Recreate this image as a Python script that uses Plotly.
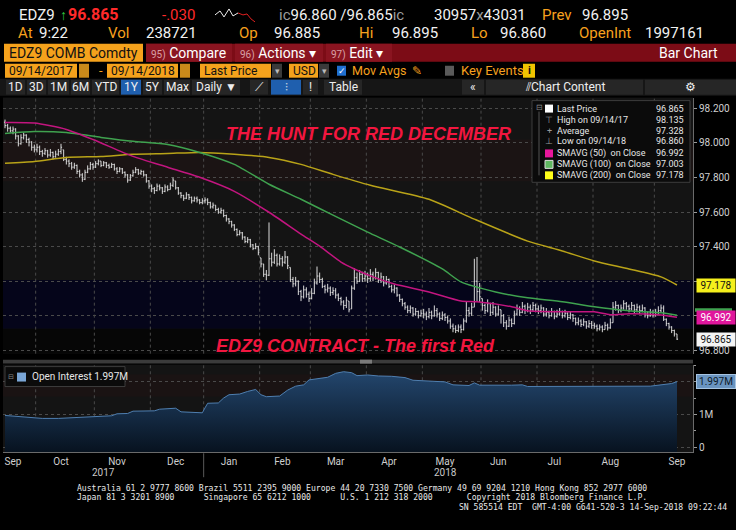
import plotly.graph_objects as go
import pandas as pd

W, H = 736, 530

# ---------------- data ----------------
holidays = ["2017-11-23", "2017-12-25", "2018-01-01", "2018-01-15", "2018-02-19",
            "2018-03-30", "2018-05-28", "2018-07-04", "2018-09-03"]
dates = [d for d in pd.bdate_range("2017-09-14", "2018-09-14")
         if d.strftime("%Y-%m-%d") not in holidays]

first_open = 98.120
close = [
    98.100, 98.085, 98.070, 98.080, 98.040, 97.995, 98.030, 98.045, 98.020, 98.005, 97.975, 97.960,
    97.975, 97.950, 97.940, 97.955, 97.930, 97.945, 97.920, 97.935, 97.950, 97.975, 97.905, 97.895,
    97.880, 97.860, 97.870, 97.835, 97.815, 97.790, 97.830, 97.850, 97.875, 97.860,
    97.880, 97.895, 97.870, 97.885, 97.870, 97.860, 97.875, 97.850, 97.835, 97.850, 97.830, 97.815,
    97.785, 97.810, 97.830, 97.845, 97.825, 97.835, 97.815, 97.780, 97.750,
    97.735, 97.725, 97.750, 97.740, 97.720, 97.745, 97.730, 97.755, 97.785, 97.740, 97.710, 97.695,
    97.680, 97.700, 97.685, 97.665, 97.680, 97.670, 97.655, 97.665,
    97.670, 97.655, 97.630, 97.640, 97.615, 97.600, 97.610, 97.580, 97.560, 97.545, 97.525, 97.500,
    97.470, 97.480, 97.455, 97.430, 97.440, 97.410, 97.390, 97.400, 97.365,
    97.300, 97.240, 97.235, 97.330, 97.310, 97.350, 97.300, 97.330, 97.310, 97.340, 97.290, 97.210,
    97.185, 97.200, 97.140, 97.110, 97.150, 97.125, 97.100,
    97.130, 97.190, 97.230, 97.210, 97.170, 97.150, 97.160, 97.135, 97.145, 97.120, 97.100, 97.080,
    97.060, 97.090, 97.035, 97.160, 97.220, 97.200, 97.240, 97.215, 97.230,
    97.215, 97.240, 97.220, 97.250, 97.205, 97.225, 97.190, 97.210, 97.170, 97.150, 97.160, 97.120,
    97.095, 97.070, 97.050, 97.030, 97.045, 97.010, 97.025, 97.000, 97.015,
    97.010, 96.995, 97.020, 97.000, 97.030, 97.010, 96.985, 97.005, 96.990, 96.970, 96.940, 96.925,
    96.915, 96.935, 96.920, 96.970, 97.030, 97.015, 97.050, 97.200, 97.140, 97.110,
    97.060, 97.030, 97.070, 97.020, 97.050, 97.010, 97.035, 97.000, 96.960, 96.940, 96.975, 96.955,
    97.010, 97.040, 97.020, 97.055, 97.030, 97.050, 97.035, 97.060, 97.040,
    97.030, 97.045, 97.010, 97.020, 97.000, 97.025, 96.995, 97.010, 97.025, 97.000, 97.015, 96.990,
    97.005, 96.985, 96.960, 96.970, 96.950, 96.965, 96.940, 96.955, 96.945,
    96.940, 96.925, 96.935, 96.920, 96.945, 96.930, 96.960, 97.050, 97.060, 97.030, 97.045, 97.070,
    97.055, 97.040, 97.060, 97.035, 97.050, 97.030, 97.045, 97.010, 97.000, 97.020, 97.005,
    97.020, 97.030, 97.045, 96.980, 96.955, 96.935, 96.915, 96.895, 96.865,
]
high = [
    98.135, 98.110, 98.095, 98.095, 98.085, 98.045, 98.050, 98.060, 98.050, 98.030, 98.010, 97.990,
    97.995, 97.985, 97.960, 97.970, 97.960, 97.965, 97.950, 97.955, 97.965, 97.995, 97.960, 97.920,
    97.905, 97.890, 97.885, 97.875, 97.845, 97.825, 97.845, 97.870, 97.890, 97.885,
    97.895, 97.905, 97.895, 97.895, 97.890, 97.880, 97.885, 97.880, 97.860, 97.860, 97.855, 97.835,
    97.820, 97.820, 97.845, 97.860, 97.850, 97.845, 97.840, 97.820, 97.785,
    97.760, 97.745, 97.765, 97.760, 97.745, 97.760, 97.755, 97.770, 97.800, 97.780, 97.745, 97.715,
    97.700, 97.715, 97.705, 97.690, 97.690, 97.690, 97.675, 97.680,
    97.685, 97.680, 97.660, 97.655, 97.640, 97.625, 97.625, 97.615, 97.585, 97.565, 97.550, 97.530,
    97.505, 97.495, 97.485, 97.460, 97.455, 97.445, 97.415, 97.420, 97.405,
    97.335, 97.300, 97.265, 97.540, 97.365, 97.385, 97.360, 97.355, 97.345, 97.375, 97.345, 97.280,
    97.225, 97.225, 97.205, 97.150, 97.175, 97.165, 97.140,
    97.160, 97.215, 97.285, 97.250, 97.220, 97.180, 97.185, 97.170, 97.165, 97.160, 97.130, 97.110,
    97.090, 97.110, 97.085, 97.175, 97.275, 97.250, 97.265, 97.255, 97.260,
    97.250, 97.270, 97.255, 97.275, 97.255, 97.250, 97.230, 97.230, 97.215, 97.180, 97.180, 97.165,
    97.125, 97.100, 97.080, 97.060, 97.060, 97.050, 97.045, 97.030, 97.035,
    97.040, 97.025, 97.045, 97.030, 97.060, 97.045, 97.020, 97.025, 97.015, 97.000, 96.985, 96.955,
    96.945, 96.950, 96.950, 96.985, 97.080, 97.050, 97.075, 97.330, 97.340, 97.190,
    97.100, 97.070, 97.095, 97.075, 97.080, 97.055, 97.060, 97.035, 97.010, 96.975, 96.995, 96.985,
    97.030, 97.065, 97.055, 97.080, 97.065, 97.075, 97.065, 97.080, 97.070,
    97.060, 97.065, 97.050, 97.045, 97.030, 97.045, 97.030, 97.035, 97.045, 97.030, 97.035, 97.020,
    97.025, 97.010, 96.990, 96.990, 96.980, 96.985, 96.970, 96.975, 96.970,
    96.960, 96.950, 96.950, 96.945, 96.965, 96.955, 96.985, 97.080, 97.085, 97.065, 97.065, 97.090,
    97.080, 97.065, 97.080, 97.065, 97.070, 97.060, 97.065, 97.050, 97.025, 97.040, 97.035,
    97.040, 97.055, 97.065, 97.060, 96.985, 96.960, 96.940, 96.920, 96.895,
]
low = [
    98.085, 98.065, 98.060, 98.050, 98.020, 97.980, 97.990, 98.020, 98.000, 97.980, 97.955, 97.945,
    97.945, 97.930, 97.920, 97.930, 97.915, 97.920, 97.905, 97.915, 97.925, 97.935, 97.895, 97.875,
    97.860, 97.845, 97.850, 97.820, 97.800, 97.775, 97.785, 97.825, 97.845, 97.845,
    97.855, 97.870, 97.860, 97.865, 97.855, 97.850, 97.855, 97.840, 97.820, 97.830, 97.820, 97.800,
    97.770, 97.780, 97.805, 97.825, 97.815, 97.815, 97.805, 97.770, 97.735,
    97.715, 97.705, 97.720, 97.725, 97.705, 97.715, 97.720, 97.730, 97.745, 97.730, 97.700, 97.680,
    97.665, 97.675, 97.670, 97.650, 97.660, 97.655, 97.645, 97.645,
    97.650, 97.640, 97.620, 97.620, 97.605, 97.590, 97.590, 97.570, 97.545, 97.530, 97.510, 97.490,
    97.460, 97.465, 97.440, 97.420, 97.420, 97.395, 97.380, 97.385, 97.350,
    97.280, 97.225, 97.205, 97.230, 97.285, 97.300, 97.285, 97.290, 97.285, 97.300, 97.270, 97.195,
    97.165, 97.170, 97.120, 97.085, 97.100, 97.105, 97.080,
    97.095, 97.125, 97.180, 97.190, 97.160, 97.130, 97.135, 97.115, 97.120, 97.100, 97.085, 97.060,
    97.035, 97.045, 97.020, 97.040, 97.150, 97.185, 97.195, 97.195, 97.200,
    97.190, 97.200, 97.200, 97.210, 97.190, 97.190, 97.170, 97.180, 97.160, 97.135, 97.130, 97.110,
    97.080, 97.055, 97.035, 97.015, 97.015, 96.995, 97.000, 96.985, 96.995,
    96.985, 96.975, 96.985, 96.980, 96.995, 96.990, 96.970, 96.975, 96.970, 96.955, 96.925, 96.905,
    96.900, 96.905, 96.900, 96.915, 96.960, 96.995, 97.000, 97.050, 97.080, 97.080,
    97.030, 97.010, 97.020, 97.000, 97.005, 96.995, 97.000, 96.955, 96.935, 96.920, 96.935, 96.935,
    96.950, 97.000, 97.000, 97.015, 97.010, 97.020, 97.010, 97.025, 97.020,
    97.010, 97.015, 96.995, 96.995, 96.985, 96.995, 96.980, 96.990, 97.000, 96.985, 96.990, 96.975,
    96.980, 96.965, 96.945, 96.945, 96.935, 96.940, 96.925, 96.930, 96.925,
    96.925, 96.910, 96.915, 96.905, 96.920, 96.915, 96.925, 96.960, 97.030, 97.015, 97.020, 97.035,
    97.035, 97.020, 97.030, 97.015, 97.020, 97.010, 97.020, 96.990, 96.985, 96.995, 96.990,
    96.995, 97.010, 97.020, 96.970, 96.940, 96.920, 96.900, 96.880, 96.860,
]

# moving averages (trading-day index -> value)
sma50_day = [0, 11, 23, 33, 48, 61, 73, 86, 99, 111, 118, 126, 131, 138, 146, 159, 171, 177, 190,
             196, 209, 221, 227, 234, 246, 252]
sma50 = [98.118, 98.115, 98.078, 98.020, 97.922, 97.859, 97.801, 97.720, 97.599, 97.473, 97.403,
         97.311, 97.271, 97.225, 97.184, 97.138, 97.086, 97.081, 97.052, 97.029, 97.023, 97.023,
         97.006, 97.012, 97.005, 96.992]
sma100_day = [0, 11, 23, 36, 48, 61, 73, 86, 99, 111, 123, 136, 148, 164, 171, 184, 196, 209, 221,
              234, 246, 252]
sma100 = [98.055, 98.066, 98.060, 98.032, 98.009, 97.991, 97.945, 97.876, 97.761, 97.674, 97.582,
          97.484, 97.398, 97.271, 97.196, 97.138, 97.104, 97.081, 97.052, 97.029, 97.017, 97.003]
sma200_day = [0, 11, 23, 36, 48, 61, 73, 86, 99, 111, 123, 137, 159, 176, 196, 209, 221, 234, 246, 252]
sma200 = [97.882, 97.893, 97.916, 97.922, 97.934, 97.939, 97.945, 97.934, 97.916, 97.876, 97.818,
          97.755, 97.674, 97.559, 97.432, 97.375, 97.317, 97.271, 97.225, 97.178]

# open interest, millions of contracts
oi_day = [0, 5, 10, 14, 20, 25, 30, 38, 40, 42, 46, 48, 56, 58, 62, 64, 66, 70, 74, 75, 76, 80, 82,
          84, 88, 91, 94, 96, 98, 103, 106, 109, 112, 114, 118, 121, 124, 127, 130, 132, 136, 140,
          145, 150, 153, 160, 165, 168, 174, 176, 178, 190, 194, 196, 210, 220, 235, 242, 246, 250, 252]
oi_mln = [0.97, 0.94, 0.90, 0.88, 0.88, 0.90, 0.92, 0.93, 0.96, 1.02, 1.03, 1.10, 1.11, 1.16, 1.18,
          1.19, 1.08, 1.06, 1.05, 1.20, 1.34, 1.35, 1.50, 1.60, 1.62, 1.70, 1.76, 1.60, 1.54, 1.56,
          1.74, 1.86, 1.90, 2.05, 2.10, 2.13, 2.25, 2.30, 2.27, 2.18, 2.20, 2.17, 2.16, 2.12, 2.04,
          2.02, 1.99, 1.90, 1.88, 1.96, 1.89, 1.89, 1.90, 1.85, 1.85, 1.84, 1.85, 1.86, 1.90, 1.94, 1.997]

price_ticks = [96.8, 97.0, 97.2, 97.4, 97.6, 97.8, 98.0, 98.2]
month_ticks = ["2017-09-19", "2017-10-13", "2017-11-13", "2017-12-14", "2018-01-16", "2018-02-13",
               "2018-03-14", "2018-04-12", "2018-05-11", "2018-06-11", "2018-07-11", "2018-08-09",
               "2018-09-14"]
month_names = ["Sep", "Oct", "Nov", "Dec", "Jan", "Feb", "Mar", "Apr", "May", "Jun", "Jul", "Aug", "Sep"]
month_ends = ["2017-09-29 12:00", "2017-10-31 12:00", "2017-11-30 12:00", "2017-12-29 12:00",
              "2018-01-31 12:00", "2018-02-28 12:00", "2018-03-29 12:00", "2018-04-30 12:00",
              "2018-05-31 12:00", "2018-06-29 12:00", "2018-07-31 12:00", "2018-08-31 12:00"]

assert len(dates) == len(close) == len(high) == len(low)

# open = previous close, kept inside the day's range
opens = []
prev = first_open
for h, l, c in zip(high, low, close):
    opens.append(min(max(prev, l), h))
    prev = c

# ---------------- style ----------------
FONT = "Roboto, Liberation Sans, sans-serif"
AMBER = "#f5a21c"
ORANGE = "#f7a11e"
GRID = "#4a4a4a"
RED_BAR = "#7c0c16"


def px(x):
    return x / W


def py(y):
    return 1 - y / H


shapes, notes = [], []


def rect(x0, y0, x1, y1, fill, line=None, layer="above"):
    shapes.append(dict(type="rect", xref="paper", yref="paper", x0=px(x0), x1=px(x1),
                       y0=py(y1), y1=py(y0), fillcolor=fill, layer=layer,
                       line=dict(width=1 if line else 0, color=line or fill)))


def text(x, y, s, color="#e6e6e6", size=10, anchor="left", family=FONT, yref="paper", **kw):
    notes.append(dict(x=px(x), y=py(y) if yref == "paper" else y, xref="paper", yref=yref,
                      text=s, showarrow=False, xanchor=anchor, yanchor="middle",
                      font=dict(color=color, size=size, family=family), **kw))


fig = go.Figure()

# price bars and moving averages
fig.add_trace(go.Ohlc(x=dates, open=opens, high=high, low=low, close=close,
                      increasing=dict(line=dict(color="#dadada", width=1)),
                      decreasing=dict(line=dict(color="#dadada", width=1)),
                      tickwidth=0.4, hoverinfo="skip", xaxis="x", yaxis="y"))
for days, vals, col in [(sma200_day, sma200, "#b9a318"), (sma100_day, sma100, "#3fa24f"),
                        (sma50_day, sma50, "#c2157f")]:
    fig.add_trace(go.Scatter(x=[dates[i] for i in days], y=vals, mode="lines",
                             line=dict(color=col, width=1.5, shape="spline", smoothing=0.6),
                             hoverinfo="skip", xaxis="x", yaxis="y"))

# open interest area
fig.add_trace(go.Scatter(x=[dates[0], dates[-1]], y=[-0.4, -0.4], mode="lines",
                         line=dict(width=0), hoverinfo="skip", xaxis="x2", yaxis="y2"))
fig.add_trace(go.Scatter(x=[dates[i] for i in oi_day], y=oi_mln, mode="lines", fill="tonexty",
                         line=dict(color="#4f7fb0", width=1),
                         fillgradient=dict(type="vertical", start=-0.15, stop=2.3,
                                           colorscale=[[0, "#07121f"], [1, "#23466d"]]),
                         hoverinfo="skip", xaxis="x2", yaxis="y2"))

breaks = [dict(bounds=["sat", "mon"]), dict(values=holidays)]
xdom = [px(3), px(693)]
xr = ["2017-09-13 06:00", "2018-09-24"]

# chart background bands
rect(3, 140, 693, 182, "#1b1414", layer="below")
rect(3, 281, 693, 330, "#05051a", layer="below")
rect(3, 330, 693, 355, "#060606", layer="below")
rect(3, 376, 693, 398, "#1a1313", layer="below")

# month grid lines in both panels + year divider
for m in month_ends:
    for y0, y1 in [(355, 98), (454, 366)]:
        shapes.append(dict(type="line", xref="x", yref="paper", x0=m, x1=m, y0=py(y0), y1=py(y1),
                           line=dict(color=GRID, width=1, dash="dot"), layer="below"))
shapes.append(dict(type="line", xref="x", yref="paper", x0=month_ends[3], x1=month_ends[3],
                   y0=py(479), y1=py(455), line=dict(color="#5a5a5a", width=1)))

# panel divider
rect(3, 361, 693, 365, "#3b3b3b")
rect(360, 361, 372, 365, "#7a7a7a")

# ---------------- header ----------------
text(17, 15, "EDZ9", "#f2f2f2", 15)
text(58, 15, "↑", "#31c840", 14)
text(66, 15, "<b>96.865</b>", "#ff2a2a", 16)
text(160, 15, "-.030", "#ff2a2a", 15)
shapes.append(dict(type="path", xref="paper", yref="paper", line=dict(color="#f0f0f0", width=1),
                   path="M{},{} L{},{} L{},{} L{},{} L{},{} L{},{}".format(
                       px(215), py(15), px(220), py(11), px(224), py(17), px(229), py(9),
                       px(233), py(16), px(238), py(13))))
shapes.append(dict(type="path", xref="paper", yref="paper", line=dict(color="#e02020", width=1),
                   path="M{},{} L{},{} L{},{} L{},{} L{},{}".format(
                       px(238), py(13), px(243), py(15), px(247), py(14), px(251), py(19),
                       px(255), py(22))))
text(277, 15, '<span style="color:#9c9c9c">ic</span>96.860 /96.865'
     '<span style="color:#9c9c9c">ic</span>', "#f2f2f2", 15)
text(432, 15, '30957<span style="color:#9c9c9c">x</span>43031', "#f2f2f2", 15)
text(540, 15, "Prev", ORANGE, 15)
text(580, 15, "96.895", "#f2f2f2", 15)

row2 = [(16, "At", ORANGE), (37, "9:22", "#f2f2f2"), (106, "Vol", ORANGE), (144, "238721", "#f2f2f2"),
        (237, "Op", ORANGE), (272, "96.885", "#f2f2f2"), (357, "Hi", ORANGE), (390, "96.895", "#f2f2f2"),
        (469, "Lo", ORANGE), (498, "96.860", "#f2f2f2"), (577, "OpenInt", ORANGE),
        (643, "1997161", "#f2f2f2")]
for x, s, c in row2:
    text(x, 33, s, c, 15)

rect(4, 44, 143, 62, AMBER)
text(7, 53, "EDZ9 COMB Comdty", "#111111", 14)
rect(146, 44, 736, 62, RED_BAR)
for x0, x1, num, lab in [(146, 232, "95)", "Compare"), (235, 323, "96)", "Actions ▾"),
                         (326, 392, "97)", "Edit ▾")]:
    rect(x0, 44, x1, 62, "#8a1420")
    text(x0 + 3, 53, '<span style="font-size:10px;color:#d9a0a6">' + num + "</span> " + lab,
         "#ffffff", 14)
text(720, 53, "Bar Chart", "#ffffff", 14, anchor="right")

for x0, x1, s in [(5, 77, "09/14/2017"), (107, 178, "09/14/2018"), (200, 271, "Last Price"),
                  (289, 318, "USD")]:
    rect(x0, 64, x1, 78, AMBER)
    text(x0 + 2, 71, s, "#111111", 12)
for x0, x1 in [(79, 89), (180, 190)]:
    rect(x0, 64, x1, 78, "#c98a1a")
for x0, x1 in [(272, 282), (319, 329)]:
    rect(x0, 64, x1, 78, "#3a3a3a")
    text((x0 + x1) / 2, 71, "▾", "#bbbbbb", 9, anchor="center")
text(97, 71, "-", ORANGE, 13)
rect(337, 66, 346, 76, "#1f6fd0")
text(341.5, 71, "✓", "#ffffff", 9, anchor="center")
text(350, 71, "Mov Avgs", ORANGE, 12.5)
text(410, 71, "✎", ORANGE, 12)
rect(445, 66, 454, 76, "#5a5a5a")
text(459, 71, "Key Events", ORANGE, 13)
rect(523, 64, 535, 78, "#f0c400")
text(529, 71, "<b>i</b>", "#111111", 11, anchor="center")

rect(0, 79, 736, 96, "#161616")
buttons = [(6, 25, "1D"), (27, 46, "3D"), (48, 69, "1M"), (71, 90, "6M"), (92, 119, "YTD"),
           (121, 141, "1Y"), (143, 162, "5Y"), (164, 190, "Max"), (192, 240, "Daily ▼"),
           (250, 268, "⟋"), (271, 301, "⫶"), (303, 318, "!"), (324, 362, "Table"),
           (462, 484, "«"), (486, 643, "⫽Chart Content"), (645, 736, "⚙")]
for x0, x1, s in buttons:
    sel = s in ("1Y", "⫶")
    rect(x0, 80, x1, 95, "#1f5fae" if sel else "#262626")
    text((x0 + x1) / 2, 87.5, s, "#eeeeee", 12, anchor="center")

# ---------------- chart texts ----------------
text(368, 135, "<b><i>THE HUNT FOR RED DECEMBER</i></b>", "#f2163f", 18, anchor="center",
     family="Liberation Sans, Arial, sans-serif")
text(355, 347, "<b><i>EDZ9 CONTRACT - The first Red</i></b>", "#f2163f", 18, anchor="center",
     family="Liberation Sans, Arial, sans-serif")

# legend box
rect(532, 101, 690, 183, "#0b0b0b", line="#3d3d3d")
shapes.append(dict(type="line", xref="paper", yref="paper", x0=px(539), x1=px(539),
                   y0=py(176), y1=py(112), line=dict(color="#555555", width=1)))
text(539, 108, "⊟", "#888888", 8, anchor="center")
leg_rows = [(109, "Last Price", "96.865", "#ffffff"),
            (120, "High on 09/14/17", "98.135", "⊤"),
            (131, "Average", "97.328", "+"),
            (142, "Low on 09/14/18", "96.860", "⊥"),
            (154, "SMAVG (50)\u00a0 on Close", "96.992", "#e8179c"),
            (165, "SMAVG (100)\u00a0 on Close", "97.003", "#5fb861"),
            (176, "SMAVG (200)\u00a0 on Close", "97.178", "#ffff1a")]
for y, lab, val, mark in leg_rows:
    if mark.startswith("#"):
        rect(545, y - 4, 553, y + 4, mark, line="#dddddd" if mark == "#5fb861" else None)
    else:
        text(549, y, mark, "#9a9a9a", 9, anchor="center")
    text(555, y, lab, "#e6e6e6", 9)
    text(686, y, val, "#e6e6e6", 9, anchor="right")

# right-axis value flags (the 100-day flag sits under the 50-day one)
rect(695, 309.5, 732, 313, "#3fa24f")
for val, bg, fg in [(97.178, "#f5f01c", "#111111"), (96.992, "#e0169c", "#ffffff"),
                    (96.865, "#f4f4f4", "#111111")]:
    text(696, val, "{:.3f}".format(val), fg, 10, yref="y", bgcolor=bg, borderpad=1, width=36)

# open interest legend + flag
rect(5, 368, 125, 388, "#0b0b0b", line="#3d3d3d")
text(11, 378, "⊟", "#888888", 7, anchor="center")
rect(17, 374, 26, 383, "#7aa6d6")
text(30, 378, "Open Interest 1.997M", "#e6e6e6", 10)
text(696, 1.997, "1.997M", "#0c1a2a", 10, yref="y2", bgcolor="#6a94c0", bordercolor="#a6c4e2",
     borderpad=1, width=36)

# year labels
text(103, 474, "2017", "#c8c8c8", 10, anchor="center")
text(445, 474, "2018", "#c8c8c8", 10, anchor="center")

# footer
MONO = "DejaVu Sans Mono, Liberation Mono, monospace"
foot1 = ("Australia 61 2 9777 8600 Brazil 5511 2395 9000 Europe 44 20 7330 7500 "
         "Germany 49 69 9204 1210 Hong Kong 852 2977 6000")
foot2 = ("Japan 81 3 3201 8900      Singapore 65 6212 1000      U.S. 1 212 318 2000       "
         "Copyright 2018 Bloomberg Finance L.P.")
foot3 = "SN 585514 EDT  GMT-4:00 G641-520-3 14-Sep-2018 09:22:44"
text(75, 489.8, foot1.replace(" ", "\u00a0"), "#e8e8e8", 8.1, family=MONO)
text(75, 499.3, foot2.replace(" ", "\u00a0"), "#e8e8e8", 8.1, family=MONO)
text(729, 508.8, foot3.replace(" ", "\u00a0"), "#e8e8e8", 8.1, anchor="right", family=MONO)

axis_common = dict(showgrid=True, gridcolor=GRID, griddash="dot", zeroline=False, side="right",
                   ticks="outside", ticklen=3, tickcolor="#9a9a9a", showline=True,
                   linecolor="#6a6a6a", tickfont=dict(size=10, color="#cfcfcf", family=FONT))

fig.update_layout(
    width=W, height=H, margin=dict(l=0, r=0, t=0, b=0),
    paper_bgcolor="#000000", plot_bgcolor="#141414", showlegend=False,
    font=dict(family=FONT, color="#d0d0d0", size=10),
    xaxis=dict(domain=xdom, anchor="y", type="date", range=xr, rangebreaks=breaks,
               showticklabels=False, showgrid=False, zeroline=False, ticks="",
               rangeslider=dict(visible=False)),
    xaxis2=dict(domain=xdom, anchor="y2", matches="x", type="date", range=xr, rangebreaks=breaks,
                showgrid=False, zeroline=False, ticks="", tickvals=month_ticks, ticktext=month_names,
                showline=True, linecolor="#6a6a6a",
                tickfont=dict(size=10, color="#cfcfcf", family=FONT)),
    yaxis=dict(domain=[py(355), py(98)], anchor="x", range=[96.781, 98.262],
               tickvals=price_ticks,
               ticktext=["96.800", "", "", "97.400", "97.600", "97.800", "98.000", "98.200"],
               **axis_common),
    yaxis2=dict(domain=[py(454), py(366)], anchor="x2", range=[-0.15, 2.515],
                tickvals=[0, 1, 2], ticktext=["0", "1M", ""],
                minor=dict(dtick=0.5, ticks="outside", ticklen=2, tickcolor="#9a9a9a", showgrid=False),
                **axis_common),
    shapes=shapes, annotations=notes,
)

# page margin off so the 736x530 figure sits flush in the window; no toolbar
fig.write_html("out.html", config={"displayModeBar": False},
               post_script="document.body.style.margin='0';document.body.style.background='#000';")
